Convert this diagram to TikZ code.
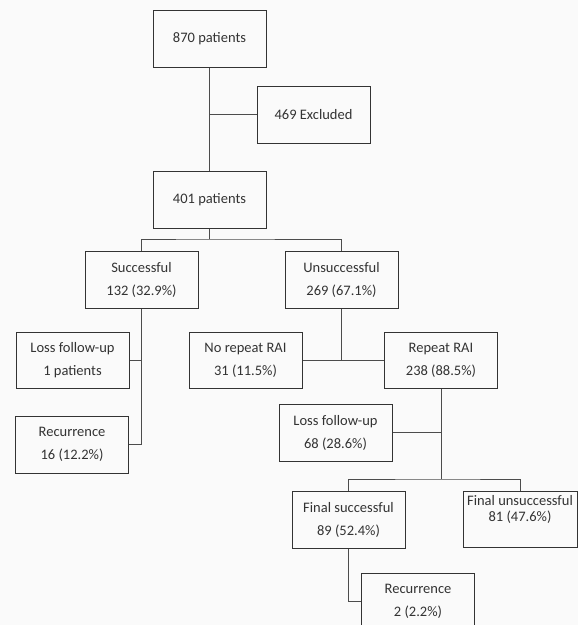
\documentclass[tikz,border=0pt]{standalone}
\usepackage{fontspec}
\setmainfont{Carlito}
\begin{document}
\begin{tikzpicture}[x=1pt,y=-1pt,
  box/.style={draw=black!80,line width=1pt,minimum width=113pt,minimum height=57pt,inner sep=0pt,align=center,text=black!80,font=\fontsize{14.5}{23}\selectfont},
  conn/.style={draw=black!70,line width=1pt}]
\fill[white!98!black] (0,0) rectangle (578,625);
\useasboundingbox (0,0) rectangle (578,625);
\clip (0,0) rectangle (578,625);
\node[box] (A) at (209.5,39) {870 patients};
\node[box] (B) at (313.5,114.5) {469 Excluded};
\node[box] (C) at (209.5,199.5) {401 patients};
\node[box] (D) at (141.5,279.5) {Successful\\132 (32.9\%)};
\node[box] (E) at (341.5,279.5) {Unsuccessful\\269 (67.1\%)};
\node[box,minimum height=56pt] (F) at (72.5,360) {Loss follow-up\\1 patients};
\node[box] (G) at (72,444.5) {Recurrence\\16 (12.2\%)};
\node[box,minimum height=56pt] (H) at (245.5,360) {No repeat RAI\\31 (11.5\%)};
\node[box,minimum height=56pt] (I) at (441,360) {Repeat RAI\\238 (88.5\%)};
\node[box] (J) at (335.5,432.5) {Loss follow-up\\68 (28.6\%)};
\node[box] (K) at (348.5,519.5) {Final successful\\89 (52.4\%)};
\node[box,minimum width=114pt,minimum height=56pt,font=\fontsize{14.5}{16.5}\selectfont] (L) at (520,519) {Final unsuccessful\\81 (47.6\%)\\[5pt]};
\node[box] (M) at (418,601.5) {Recurrence\\2 (2.2\%)};
\coordinate (cb) at (209.5,239);
\coordinate (ib) at (441,479);
\draw[conn] (A.south) -- (C.north);
\draw[conn] (B.west) -- (B.west -| A.south);
\draw[conn] (C.south) -- (cb);
\draw[conn] (D.north) |- (cb) -| (E.north);
\draw[conn] (D.south) |- (G.east);
\draw[conn] (F.east) -- (F.east -| D.south);
\draw[conn] (E.south) -- (E.south |- H.east);
\draw[conn] (H.east) -- (I.west);
\draw[conn] (I.south) -- (ib);
\draw[conn] (J.east) -- (J.east -| ib);
\draw[conn] (K.north) |- (ib) -| (L.north);
\draw[conn] (K.south) |- (M.west);
\end{tikzpicture}
\end{document}
